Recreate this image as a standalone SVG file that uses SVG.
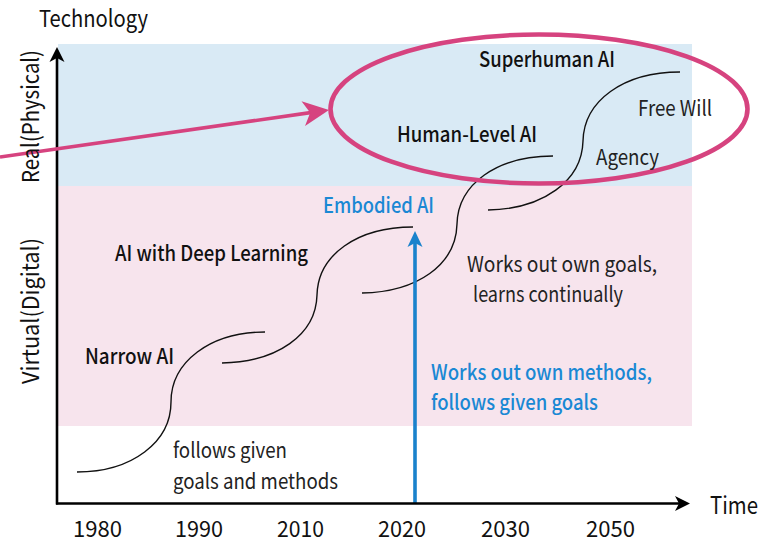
<svg xmlns="http://www.w3.org/2000/svg" width="773" height="543" viewBox="0 0 773 543">
<style>
text{font-family:"Noto Sans CJK JP","Noto Sans","Liberation Sans",sans-serif;}
.h{font-size:21px;font-weight:500;fill:#111;}
.n{font-size:21px;font-weight:400;fill:#222;}
.b{font-size:21px;font-weight:500;fill:#1a88d4;}
.ax{font-size:23.5px;font-weight:400;fill:#111;}
.yr{font-size:22px;font-weight:400;fill:#111;}
.curve{fill:none;stroke:#111;stroke-width:1.4;}
</style>
<defs>
<marker id="ahBlack" viewBox="-18 -9 20 18" markerWidth="20" markerHeight="18" refX="-8" refY="0" orient="auto" markerUnits="userSpaceOnUse">
<path d="M0,0 L-15,-7.5 L-11,0 L-15,7.5 Z" fill="#000"/>
</marker>
<marker id="ahBlue" viewBox="-18 -9 20 18" markerWidth="20" markerHeight="18" refX="-8" refY="0" orient="auto" markerUnits="userSpaceOnUse">
<path d="M0,0 L-16,-7.5 L-12,0 L-16,7.5 Z" fill="#1a82cc"/>
</marker>
<marker id="ahPink" viewBox="-28 -14 30 28" markerWidth="30" markerHeight="28" refX="-10" refY="0" orient="auto" markerUnits="userSpaceOnUse">
<path d="M0,0 L-26,-12.5 L-19,0 L-26,12.5 Z" fill="#d6437f"/>
</marker>
</defs>
<rect width="773" height="543" fill="#fff"/>
<g id="bands">
<rect x="58" y="44" width="634" height="142" fill="#d9eaf5"/>
<rect x="58" y="186" width="634" height="240" fill="#f7e4ed"/>
</g>
<g id="connectors">
<path class="curve" d="M77,472 c55,0 94,-30 94,-70 c0,-40 39,-70 94,-70"/>
<path class="curve" d="M222,363 c55,-1 94,-28 95,-68 c1,-40 40,-68 96,-68"/>
<path class="curve" d="M362,293 c55,-1 94,-28 95,-69 c1,-40 40,-68 96,-68"/>
<path class="curve" d="M488,210 c55,-1 94,-29 95,-69 c1,-40 40,-69 97,-69"/>
<line x1="415" y1="503" x2="415" y2="239" stroke="#1a82cc" stroke-width="3.6" marker-end="url(#ahBlue)"/>
<line x1="57" y1="504.5" x2="57" y2="55" stroke="#000" stroke-width="2.6" marker-end="url(#ahBlack)"/>
<line x1="56" y1="503.5" x2="682" y2="503.5" stroke="#000" stroke-width="2.6" marker-end="url(#ahBlack)"/>
<line x1="0" y1="157" x2="319.1" y2="111.4" stroke="#d6437f" stroke-width="3.6" marker-end="url(#ahPink)"/>
<ellipse cx="539" cy="109" rx="208.5" ry="74.5" fill="none" stroke="#d6437f" stroke-width="4.6"/>
</g>
<g id="axis-labels">
<text class="ax" x="39" y="27" textLength="109" lengthAdjust="spacingAndGlyphs">Technology</text>
<text class="ax" transform="translate(39,116.5) rotate(-90)" text-anchor="middle" textLength="133" lengthAdjust="spacingAndGlyphs">Real(Physical)</text>
<text class="ax" transform="translate(39,311) rotate(-90)" text-anchor="middle" textLength="146" lengthAdjust="spacingAndGlyphs">Virtual(Digital)</text>
<text class="ax" x="710" y="514" textLength="48" lengthAdjust="spacingAndGlyphs" style="font-size:24px">Time</text>
<text class="yr" x="73" y="536.5" textLength="49" lengthAdjust="spacingAndGlyphs">1980</text>
<text class="yr" x="175" y="536.5" textLength="48" lengthAdjust="spacingAndGlyphs">1990</text>
<text class="yr" x="277" y="536.5" textLength="47" lengthAdjust="spacingAndGlyphs">2010</text>
<text class="yr" x="378" y="536.5" textLength="48" lengthAdjust="spacingAndGlyphs">2020</text>
<text class="yr" x="481" y="536.5" textLength="49" lengthAdjust="spacingAndGlyphs">2030</text>
<text class="yr" x="586" y="536.5" textLength="49" lengthAdjust="spacingAndGlyphs">2050</text>
</g>
<g id="node-superhuman"><text class="h" x="479" y="67" textLength="136" lengthAdjust="spacingAndGlyphs">Superhuman AI</text></g>
<g id="node-free-will"><text class="n" x="638" y="116" textLength="74" lengthAdjust="spacingAndGlyphs">Free Will</text></g>
<g id="node-human-level"><text class="h" x="397" y="142" textLength="140" lengthAdjust="spacingAndGlyphs">Human-Level AI</text></g>
<g id="node-agency"><text class="n" x="596" y="165" textLength="63" lengthAdjust="spacingAndGlyphs">Agency</text></g>
<g id="node-embodied"><text class="b" x="323" y="213" textLength="111" lengthAdjust="spacingAndGlyphs">Embodied AI</text></g>
<g id="node-deep-learning"><text class="h" x="115" y="261" textLength="193" lengthAdjust="spacingAndGlyphs">AI with Deep Learning</text></g>
<g id="node-own-goals">
<text class="n" x="467" y="272" textLength="190" lengthAdjust="spacingAndGlyphs">Works out own goals,</text>
<text class="n" x="473" y="302" textLength="150" lengthAdjust="spacingAndGlyphs">learns continually</text>
</g>
<g id="node-narrow"><text class="h" x="85" y="364" textLength="89" lengthAdjust="spacingAndGlyphs">Narrow AI</text></g>
<g id="node-own-methods">
<text class="b" x="431" y="380" textLength="221" lengthAdjust="spacingAndGlyphs">Works out own methods,</text>
<text class="b" x="431" y="410" textLength="167" lengthAdjust="spacingAndGlyphs">follows given goals</text>
</g>
<g id="node-given">
<text class="n" x="173" y="458" textLength="114" lengthAdjust="spacingAndGlyphs">follows given</text>
<text class="n" x="173" y="489" textLength="165" lengthAdjust="spacingAndGlyphs">goals and methods</text>
</g>
</svg>
